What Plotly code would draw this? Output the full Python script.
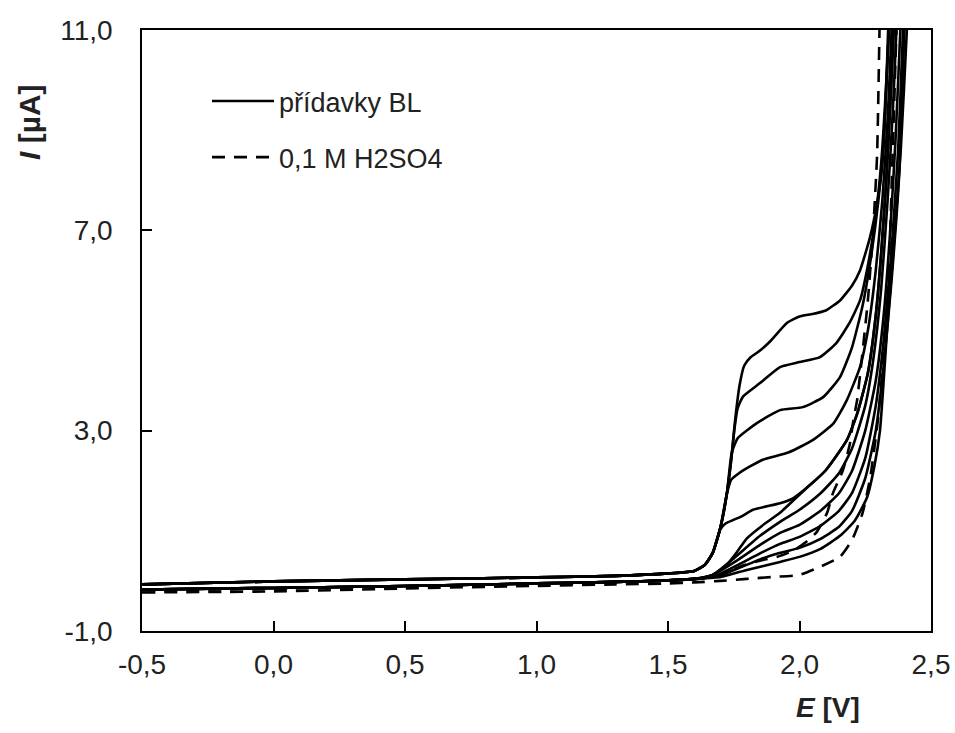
import plotly.graph_objects as go

# ---------------- data ----------------
X_TICKS = [-0.5, 0.0, 0.5, 1.0, 1.5, 2.0, 2.5]
X_TICK_TEXT = ["-0,5", "0,0", "0,5", "1,0", "1,5", "2,0", "2,5"]
Y_TICKS = [-1.0, 3.0, 7.0, 11.0]
Y_TICK_TEXT = ["-1,0", "3,0", "7,0", "11,0"]

BASE_E = [-0.5, 0.0, 0.5, 1.0, 1.3, 1.5, 1.6]
BASE_UP = [-0.07, -0.01, 0.03, 0.07, 0.10, 0.15, 0.20]
BASE_LO = [-0.17, -0.14, -0.10, -0.05, -0.02, 0.01, 0.04]
BASE_DASH_LO = [-0.23, -0.21, -0.15, -0.10, -0.07, -0.05, -0.03]
BASE_DASH_UP = [-0.19, -0.16, -0.11, -0.06, -0.03, 0.00, 0.03]

# curves with the BL oxidation wave (start from upper baseline)
E_A1 = [1.64, 1.67, 1.70, 1.724, 1.74, 1.755, 1.772, 1.79, 1.815, 1.845, 1.888, 1.952, 2.0, 2.05, 2.10, 2.154, 2.20, 2.23, 2.268, 2.295, 2.313, 2.325, 2.337, 2.342]
I_A1 = [0.32, 0.56, 1.08, 1.75, 2.40, 3.20, 3.90, 4.30, 4.47, 4.58, 4.78, 5.15, 5.28, 5.33, 5.40, 5.60, 5.90, 6.20, 6.86, 7.54, 8.20, 9.20, 11.0, 12.0]
E_A2 = [1.64, 1.67, 1.70, 1.724, 1.74, 1.753, 1.765, 1.785, 1.85, 1.926, 2.0, 2.078, 2.14, 2.19, 2.23, 2.26, 2.29, 2.31, 2.325, 2.34, 2.345]
I_A2 = [0.32, 0.56, 1.08, 1.75, 2.40, 3.05, 3.45, 3.68, 3.95, 4.27, 4.37, 4.47, 4.75, 5.15, 5.60, 6.30, 7.30, 8.30, 9.50, 11.0, 12.0]
E_A3 = [1.64, 1.67, 1.70, 1.724, 1.742, 1.765, 1.838, 1.926, 2.013, 2.09, 2.154, 2.20, 2.24, 2.27, 2.30, 2.32, 2.34, 2.345]
I_A3 = [0.32, 0.56, 1.08, 1.75, 2.55, 2.85, 3.15, 3.41, 3.47, 3.67, 4.07, 4.67, 5.50, 6.40, 7.60, 8.80, 11.0, 12.0]
E_A4 = [1.64, 1.67, 1.70, 1.722, 1.74, 1.77, 1.81, 1.86, 1.96, 2.05, 2.13, 2.18, 2.23, 2.26, 2.29, 2.315, 2.335, 2.35, 2.355]
I_A4 = [0.32, 0.56, 1.08, 1.70, 2.02, 2.15, 2.28, 2.42, 2.57, 2.81, 3.15, 3.61, 4.27, 5.00, 6.20, 7.60, 9.20, 11.0, 12.0]
E_A5 = [1.64, 1.67, 1.698, 1.72, 1.745, 1.78, 1.823, 1.926, 1.975, 2.03, 2.10, 2.18, 2.22, 2.26, 2.29, 2.31, 2.33, 2.345, 2.36, 2.365]
I_A5 = [0.32, 0.56, 1.02, 1.15, 1.21, 1.29, 1.42, 1.55, 1.65, 1.87, 2.21, 2.81, 3.35, 4.15, 5.30, 6.50, 8.00, 9.50, 11.2, 12.0]

# curves without the wave (start from lower baseline)
E_B1 = [1.67, 1.72, 1.76, 1.80, 1.87, 1.926, 1.975, 2.03, 2.10, 2.18, 2.22, 2.26, 2.29, 2.31, 2.33, 2.345, 2.36, 2.365]
I_B1 = [0.12, 0.30, 0.56, 0.85, 1.15, 1.36, 1.60, 1.87, 2.21, 2.81, 3.35, 4.15, 5.30, 6.50, 8.00, 9.50, 11.2, 12.0]
E_B2 = [1.67, 1.75, 1.85, 1.926, 2.0, 2.08, 2.15, 2.20, 2.25, 2.28, 2.31, 2.335, 2.355, 2.37, 2.375]
I_B2 = [0.12, 0.45, 0.90, 1.18, 1.42, 1.75, 2.15, 2.65, 3.50, 4.40, 5.80, 7.60, 9.40, 11.2, 12.0]
E_B3 = [1.67, 1.76, 1.85, 1.926, 2.0, 2.08, 2.15, 2.20, 2.25, 2.29, 2.32, 2.345, 2.365, 2.385, 2.39]
I_B3 = [0.12, 0.40, 0.72, 0.96, 1.12, 1.40, 1.75, 2.20, 3.00, 4.00, 5.30, 7.00, 8.80, 11.2, 12.0]
E_B4 = [1.68, 1.77, 1.85, 1.926, 2.0, 2.08, 2.15, 2.20, 2.25, 2.29, 2.32, 2.35, 2.375, 2.395, 2.40]
I_B4 = [0.10, 0.33, 0.55, 0.74, 0.88, 1.10, 1.40, 1.76, 2.45, 3.50, 4.80, 6.60, 8.60, 11.2, 12.0]
E_B5 = [1.69, 1.78, 1.85, 1.926, 2.0, 2.08, 2.15, 2.20, 2.25, 2.29, 2.32, 2.35, 2.38, 2.40, 2.405]
I_B5 = [0.10, 0.28, 0.43, 0.56, 0.66, 0.84, 1.08, 1.40, 2.05, 3.00, 4.30, 6.00, 8.20, 11.2, 12.0]
E_B6 = [1.70, 1.80, 1.926, 2.0, 2.08, 2.154, 2.21, 2.257, 2.285, 2.306, 2.333, 2.36, 2.385, 2.41, 2.415]
I_B6 = [0.08, 0.22, 0.38, 0.48, 0.64, 0.90, 1.20, 1.67, 2.30, 3.00, 5.00, 6.80, 8.60, 11.2, 12.0]

# 0,1 M H2SO4 blank (two branches)
E_D_LO = [1.70, 1.80, 1.90, 2.0, 2.078, 2.154, 2.20, 2.24, 2.27, 2.30, 2.333, 2.345, 2.355, 2.37, 2.375]
I_D_LO = [0.00, 0.04, 0.08, 0.12, 0.28, 0.48, 0.82, 1.36, 2.10, 3.30, 5.40, 7.00, 8.70, 11.2, 12.0]
E_D_UP = [1.70, 1.78, 1.861, 1.914, 1.975, 2.03, 2.066, 2.105, 2.127, 2.165, 2.192, 2.203, 2.219, 2.23, 2.26, 2.28, 2.295, 2.305, 2.31]
I_D_UP = [0.12, 0.30, 0.42, 0.48, 0.60, 0.80, 0.98, 1.36, 1.75, 2.21, 2.75, 3.15, 3.61, 4.10, 5.60, 7.00, 8.50, 11.2, 12.0]

SOLID_NAME = "přídavky BL"
DASH_NAME = "0,1 M H2SO4"

# ---------------- figure ----------------
fig = go.Figure()
LW = 2.6
SMOOTH = 0.5
solid = dict(color="black", width=LW, shape="spline", smoothing=SMOOTH)
dashed = dict(color="black", width=LW, dash="13px,9px", shape="spline", smoothing=SMOOTH)

curves_up = [(E_A1, I_A1), (E_A2, I_A2), (E_A3, I_A3), (E_A4, I_A4), (E_A5, I_A5)]
curves_lo = [(E_B1, I_B1), (E_B2, I_B2), (E_B3, I_B3), (E_B4, I_B4), (E_B5, I_B5), (E_B6, I_B6)]

# dashed blank first (under solid lines)
fig.add_trace(go.Scatter(x=BASE_E + E_D_UP, y=BASE_DASH_UP + I_D_UP, mode="lines",
                         line=dashed, showlegend=False, hoverinfo="skip"))
fig.add_trace(go.Scatter(x=BASE_E + E_D_LO, y=BASE_DASH_LO + I_D_LO, mode="lines",
                         line=dashed, name=DASH_NAME,
                         legendgroup="b", legendrank=2, hoverinfo="skip"))

first = True
for e, i in curves_up:
    fig.add_trace(go.Scatter(x=BASE_E + e, y=BASE_UP + i, mode="lines", line=solid,
                             name=SOLID_NAME, showlegend=first, legendgroup="a",
                             legendrank=1, hoverinfo="skip"))
    first = False
for e, i in curves_lo:
    fig.add_trace(go.Scatter(x=BASE_E + e, y=BASE_LO + i, mode="lines", line=solid,
                             showlegend=False, hoverinfo="skip"))

FONT = "Liberation Sans, Arial, sans-serif"
axis_common = dict(showline=True, linecolor="black", linewidth=1.5, mirror=True,
                   ticks="inside", ticklen=10, tickwidth=1.5, tickcolor="black",
                   showgrid=False, zeroline=False, automargin=False,
                   tickfont=dict(family=FONT, size=28, color="#222"))

fig.update_xaxes(range=[-0.5, 2.5], tickvals=X_TICKS, ticktext=X_TICK_TEXT,
                 ticklabelstandoff=8, **axis_common)
fig.update_yaxes(range=[-1.0, 11.0], tickvals=Y_TICKS, ticktext=Y_TICK_TEXT,
                 ticklabelstandoff=22, **axis_common)

fig.add_annotation(text="<b><i>E</i> [V]</b>", xref="paper", yref="paper",
                   x=(828 - 142) / 789, y=-(708 - 631) / 601, xanchor="center", yanchor="middle",
                   showarrow=False, font=dict(family=FONT, size=28, color="#222"))
fig.add_annotation(text="<b><i>I</i> [µA]</b>", xref="paper", yref="paper",
                   x=-(142 - 30) / 789, y=(631 - 122) / 601, xanchor="center", yanchor="middle",
                   textangle=-90, showarrow=False,
                   font=dict(family=FONT, size=30, color="#222"))

fig.update_layout(
    width=955, height=733,
    margin=dict(l=142, r=24, t=30, b=102),
    paper_bgcolor="white", plot_bgcolor="white",
    showlegend=True,
    legend=dict(x=(207 - 142) / 789, y=(631 - 77) / 601, xanchor="left", yanchor="top",
                bgcolor="rgba(0,0,0,0)", font=dict(family=FONT, size=27, color="#222"),
                tracegroupgap=18, itemwidth=62, traceorder="grouped"),
)

fig.write_html("out.html")
